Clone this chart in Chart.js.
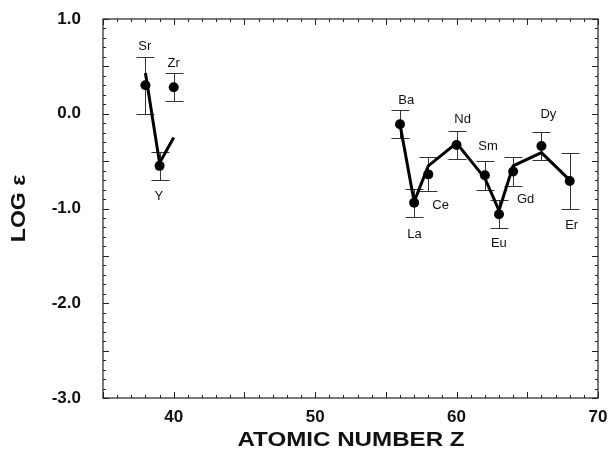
<!DOCTYPE html>
<html>
<head>
<meta charset="utf-8">
<script src="https://cdn.jsdelivr.net/npm/chart.js@4/dist/chart.umd.min.js"></script>
<style>
  html, body { margin: 0; padding: 0; background: #fff; }
  #wrap { width: 608px; height: 451px; }
</style>
</head>
<body>
<div id="wrap"><canvas id="chart" width="608" height="451"></canvas></div>
<script>
// observed abundances
const elements = ['Sr', 'Y', 'Zr', 'Ba', 'La', 'Ce', 'Nd', 'Sm', 'Eu', 'Gd', 'Dy', 'Er'];
const atomicZ = [38, 39, 40, 56, 57, 58, 60, 62, 63, 64, 66, 68];
const logEps = [0.30, -0.55, 0.28, -0.11, -0.94, -0.64, -0.33, -0.65, -1.06, -0.61, -0.34, -0.71];
const logErr = [0.30, 0.15, 0.15, 0.15, 0.15, 0.18, 0.15, 0.15, 0.15, 0.15, 0.15, 0.30];

// where each element name sits (data units)
const labelZ = [37.95, 38.94, 40.0, 56.44, 57.03, 58.87, 60.43, 62.23, 62.99, 64.88, 66.49, 68.14];
const labelLog = [0.71, -0.87, 0.53, 0.14, -1.27, -0.97, -0.06, -0.35, -1.37, -0.90, -0.01, -1.18];

// scaled solar curve
const modelZLight = [38, 39, 40];
const modelLogLight = [0.43, -0.52, -0.25];
const modelZHeavy = [56, 57, 58, 60, 62, 63, 64, 66, 68];
const modelLogHeavy = [-0.11, -0.93, -0.55, -0.31, -0.68, -1.02, -0.55, -0.41, -0.70];

// axes
const xTicks = [40, 50, 60, 70];
const yTicks = [-3, -2, -1, 0, 1];

const FONT = "'Liberation Sans', Arial, Helvetica, sans-serif";

function pairs(xs, ys) {
  return xs.map((x, i) => ({ x: x, y: ys[i] }));
}

// frame, inward ticks, error bars, element names, axis titles
const decorPlugin = {
  id: 'decor',
  beforeDatasetsDraw(chart) {
    const ctx = chart.ctx;
    const a = chart.chartArea;
    const xs = chart.scales.x;
    const ys = chart.scales.y;
    ctx.save();
    ctx.strokeStyle = '#222';
    ctx.lineWidth = 1.2;
    ctx.strokeRect(a.left, a.top, a.right - a.left, a.bottom - a.top);

    ctx.lineWidth = 1;
    ctx.beginPath();
    for (let z = 35; z <= 70; z++) {
      const px = Math.round(xs.getPixelForValue(z)) + 0.5;
      const len = z % 5 === 0 ? 6 : 3;
      ctx.moveTo(px, a.bottom); ctx.lineTo(px, a.bottom - len);
      ctx.moveTo(px, a.top); ctx.lineTo(px, a.top + len);
    }
    for (let k = -30; k <= 10; k++) {
      const py = Math.round(ys.getPixelForValue(k / 10)) + 0.5;
      const len = k % 5 === 0 ? 6 : 3;
      ctx.moveTo(a.left, py); ctx.lineTo(a.left + len, py);
      ctx.moveTo(a.right, py); ctx.lineTo(a.right - len, py);
    }
    ctx.stroke();

    // error bars
    ctx.strokeStyle = '#333';
    ctx.lineWidth = 1;
    ctx.beginPath();
    atomicZ.forEach((z, i) => {
      const px = Math.round(xs.getPixelForValue(z)) + 0.5;
      const top = Math.round(ys.getPixelForValue(logEps[i] + logErr[i])) + 0.5;
      const bot = Math.round(ys.getPixelForValue(logEps[i] - logErr[i])) + 0.5;
      ctx.moveTo(px, top); ctx.lineTo(px, bot);
      ctx.moveTo(px - 9, top); ctx.lineTo(px + 9, top);
      ctx.moveTo(px - 9, bot); ctx.lineTo(px + 9, bot);
    });
    ctx.stroke();
    ctx.restore();
  },
  afterDraw(chart) {
    const ctx = chart.ctx;
    const a = chart.chartArea;
    const xs = chart.scales.x;
    const ys = chart.scales.y;
    ctx.save();
    ctx.fillStyle = '#111';
    ctx.textAlign = 'center';
    ctx.textBaseline = 'middle';
    ctx.font = '13px ' + FONT;
    elements.forEach((el, i) => {
      ctx.fillText(el, xs.getPixelForValue(labelZ[i]), ys.getPixelForValue(labelLog[i]));
    });

    // the scanned titles run a little wider than the font
    ctx.font = 'bold 21px ' + FONT;
    ctx.save();
    ctx.translate(351, 440);
    ctx.scale(1.15, 1);
    ctx.fillText('ATOMIC NUMBER Z', 0, 0);
    ctx.restore();

    ctx.translate(19, (a.top + a.bottom) / 2);
    ctx.rotate(-Math.PI / 2);
    ctx.scale(1.1, 1);
    ctx.fillText('LOG \u03b5', 0, 0);
    ctx.restore();
  }
};

new Chart(document.getElementById('chart'), {
  type: 'scatter',
  data: {
    datasets: [
      {
        label: 'observed',
        data: pairs(atomicZ, logEps),
        showLine: false,
        pointRadius: 5,
        pointHoverRadius: 5,
        pointBackgroundColor: '#000',
        pointBorderColor: '#000',
        pointBorderWidth: 0
      },
      {
        label: 'model light',
        data: pairs(modelZLight, modelLogLight),
        showLine: true,
        borderColor: '#000',
        borderWidth: 3,
        pointRadius: 0,
        tension: 0
      },
      {
        label: 'model heavy',
        data: pairs(modelZHeavy, modelLogHeavy),
        showLine: true,
        borderColor: '#000',
        borderWidth: 3,
        pointRadius: 0,
        tension: 0
      }
    ]
  },
  options: {
    responsive: false,
    animation: false,
    devicePixelRatio: 1,
    layout: { padding: { left: 0, right: 10, top: 19, bottom: 0 } },
    plugins: {
      legend: { display: false },
      tooltip: { enabled: false }
    },
    scales: {
      x: {
        type: 'linear',
        min: 35,
        max: 70,
        afterBuildTicks: (scale) => { scale.ticks = xTicks.map(v => ({ value: v })); },
        afterFit: (scale) => {
          scale.height = 53;
          scale.paddingLeft = 0;
          scale.paddingRight = 0;
        },
        grid: { display: false, drawTicks: false },
        border: { display: false },
        ticks: {
          padding: 9,
          color: '#111',
          font: { family: FONT, size: 17, weight: 'bold' },
          callback: (v) => String(v),
          maxRotation: 0
        }
      },
      y: {
        type: 'linear',
        min: -3,
        max: 1,
        afterBuildTicks: (scale) => { scale.ticks = yTicks.map(v => ({ value: v })); },
        afterFit: (scale) => {
          scale.width = 103;
          scale.paddingTop = 0;
          scale.paddingBottom = 0;
        },
        grid: { display: false, drawTicks: false },
        border: { display: false },
        ticks: {
          padding: 22,
          color: '#111',
          font: { family: FONT, size: 17, weight: 'bold' },
          callback: (v) => Number(v).toFixed(1)
        }
      }
    }
  },
  plugins: [decorPlugin]
});
</script>
</body>
</html>
